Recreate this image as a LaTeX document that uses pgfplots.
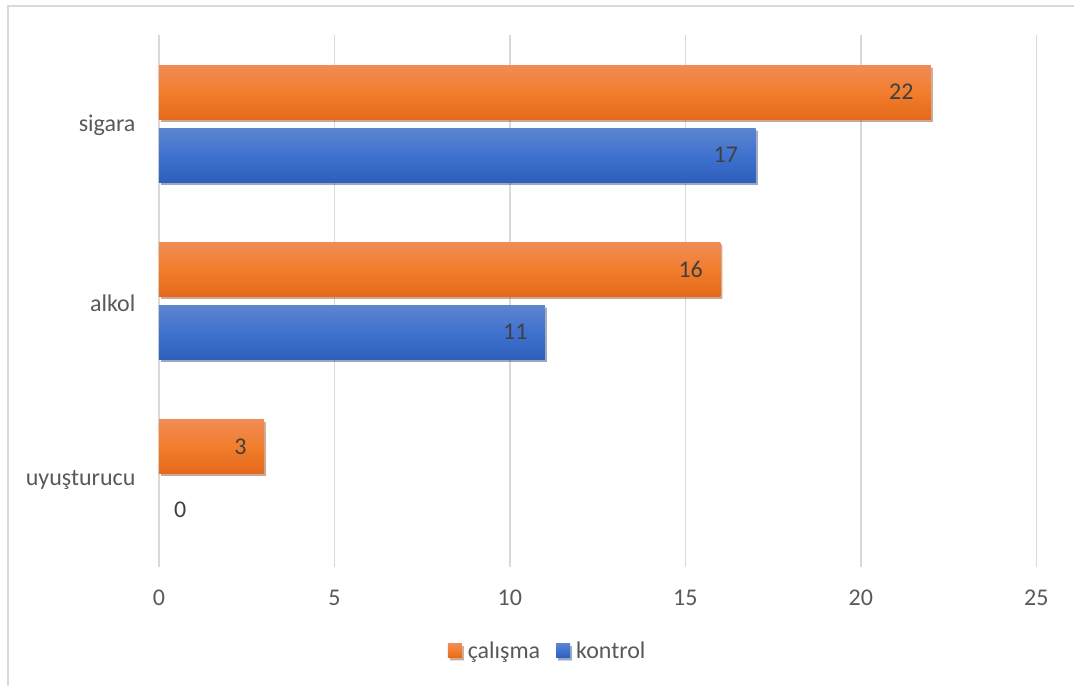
\documentclass[border=0pt]{standalone}
\usepackage{pgfplots}
\pgfplotsset{compat=1.18}
\usepackage{fontspec}
\setmainfont{Carlito}
\usetikzlibrary{shadows}
\definecolor{orTop}{HTML}{F08C56}
\definecolor{orMid}{HTML}{F27D2C}
\definecolor{orBot}{HTML}{E5691C}
\definecolor{blTop}{HTML}{5D85CF}
\definecolor{blMid}{HTML}{3F72CF}
\definecolor{blBot}{HTML}{2D5FBA}
\definecolor{gridc}{HTML}{D9D9D9}
\definecolor{txt}{HTML}{595959}
\definecolor{lbl}{HTML}{404040}
\pgfplotsset{
  orbar/.style={draw=none, top color=orTop, bottom color=orBot, middle color=orMid, bar shift=31.5pt,
    drop shadow={shadow xshift=2pt, shadow yshift=-2.5pt, opacity=0.25, fill=black}},
  blbar/.style={draw=none, top color=blTop, bottom color=blBot, middle color=blMid, bar shift=-31.5pt,
    drop shadow={shadow xshift=2pt, shadow yshift=-2.5pt, opacity=0.25, fill=black}},
}
\begin{document}
\begin{tikzpicture}[x=1pt,y=1pt]
% bounding box (pixel px,py -> px-159, 567-py)
\path (-159,-119) rectangle (916,567);
\draw[gridc, line width=1.5pt] (-151,-119) -- (-151,561) -- (916,561);
\begin{axis}[
  at={(0,0)}, anchor=south west,
  scale only axis, width=878pt, height=532pt,
  xmin=0, xmax=25, ymin=-0.5, ymax=2.5,
  xtick={0,5,...,25},
  ytick={0,1,2},
  yticklabels={uyuşturucu,alkol,sigara},
  axis line style={draw=none},
  major tick length=0pt,
  xmajorgrids, major grid style={gridc, line width=1.5pt},
  xticklabel style={font=\fontsize{24}{29}\selectfont, text=txt, anchor=center, yshift=-31pt},
  yticklabel style={font=\fontsize{24}{29}\selectfont, text=txt, anchor=east, xshift=-20pt, yshift=-2pt},
  /pgf/number format/assume math mode=true,
  xbar, bar width=54pt,
  legend style={at={(389pt,-84pt)}, anchor=center, draw=none,
    legend columns=2, font=\fontsize{24}{29}\selectfont, text=txt,
    /tikz/every odd column/.append style={column sep=4pt},
    /tikz/every even column/.append style={column sep=14pt}},
  legend image code/.code={\fill[#1] (0pt,-7pt) rectangle (14pt,7pt);},
  nodes near coords,
  visualization depends on={rawx \as \myx},
  every node near coord/.append style={font=\fontsize{24}{29}\selectfont, text=lbl, anchor=east,
     xshift={ifthenelse(\myx<0.5,31,-14)}},
  clip=false,
]
\addplot[orbar, forget plot] coordinates {(3,0)};
\addplot[orbar, forget plot] coordinates {(16,1)};
\addplot[orbar] coordinates {(22,2)};
\addplot[draw=none, fill=none, bar shift=-31.5pt, forget plot] coordinates {(0,0)};
\addplot[blbar, forget plot] coordinates {(11,1)};
\addplot[blbar] coordinates {(17,2)};
\legend{çalışma,kontrol}
\end{axis}
\end{tikzpicture}
\end{document}
